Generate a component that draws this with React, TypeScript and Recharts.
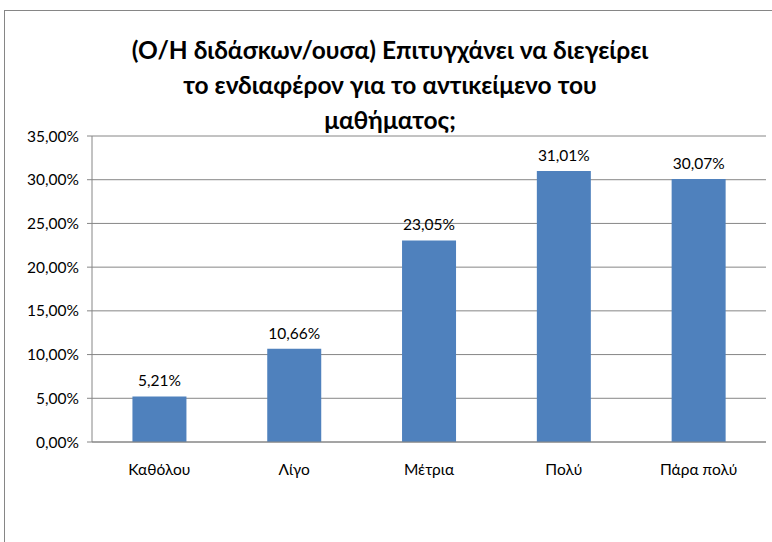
import { Bar, BarChart, CartesianGrid, LabelList, XAxis, YAxis } from 'recharts'

const categories = ['Καθόλου', 'Λίγο', 'Μέτρια', 'Πολύ', 'Πάρα πολύ']
const shares = [5.21, 10.66, 23.05, 31.01, 30.07]
const yTicks = [0, 5, 10, 15, 20, 25, 30, 35]
const edgeTicks = [0, 1, 2, 3, 4, 5]
const titleLines = [
  '(Ο/Η διδάσκων/ουσα) Επιτυγχάνει να διεγείρει',
  'το ενδιαφέρον για το αντικείμενο του',
  'μαθήματος;',
]

const data = categories.map((name, i) => ({ name, value: shares[i] }))

const pct = (v: number) => v.toFixed(2).replace('.', ',') + '%'

const FONT = 'Lato, "Noto Sans", sans-serif'
const GRID = '#868686'

export default function App() {
  return (
    <div
      style={{
        position: 'fixed',
        left: 0,
        top: 0,
        width: 772,
        height: 542,
        overflow: 'hidden',
        background: '#fff',
        fontFamily: FONT,
      }}
    >
      <div
        style={{
          position: 'absolute',
          left: 4,
          top: 10,
          width: 900,
          height: 700,
          border: `1px solid ${GRID}`,
        }}
      />
      <div
        style={{
          position: 'absolute',
          left: 0,
          top: 32,
          width: 780,
          textAlign: 'center',
          fontWeight: 'bold',
          fontSize: 24.5,
          lineHeight: '35px',
          color: '#000',
        }}
      >
        {titleLines.map((t) => (
          <div key={t}>{t}</div>
        ))}
      </div>
      <div style={{ position: 'absolute', left: 0, top: 0 }}>
        <BarChart
          width={772}
          height={542}
          data={data}
          margin={{ top: 136, right: 6, left: 0, bottom: 60 }}
          barCategoryGap="30%"
        >
          <CartesianGrid horizontal vertical={false} stroke={GRID} strokeDasharray="" />
          <XAxis
            xAxisId="edge"
            type="number"
            domain={[0, 5]}
            ticks={edgeTicks}
            height={0}
            axisLine={false}
            tickLine={{ stroke: GRID }}
            tickSize={5}
            tickFormatter={() => ''}
          />
          <XAxis
            dataKey="name"
            height={40}
            axisLine={{ stroke: GRID }}
            tickLine={false}
            tickSize={0}
            tickMargin={22}
            tick={{ fill: '#000', fontSize: 15.5, fontFamily: FONT }}
            interval={0}
          />
          <YAxis
            width={92}
            domain={[0, 35]}
            ticks={yTicks}
            tickFormatter={pct}
            axisLine={{ stroke: GRID }}
            tickLine={{ stroke: GRID }}
            tickSize={5}
            tickMargin={8}
            tick={{ fill: '#000', fontSize: 15.5, fontFamily: FONT }}
          />
          <Bar dataKey="value" fill="#4F81BD" isAnimationActive={false}>
            <LabelList
              dataKey="value"
              position="top"
              offset={10}
              formatter={(v: any) => pct(Number(v))}
              style={{ fill: '#000', fontSize: 15.5, fontFamily: FONT }}
            />
          </Bar>
        </BarChart>
      </div>
    </div>
  )
}
